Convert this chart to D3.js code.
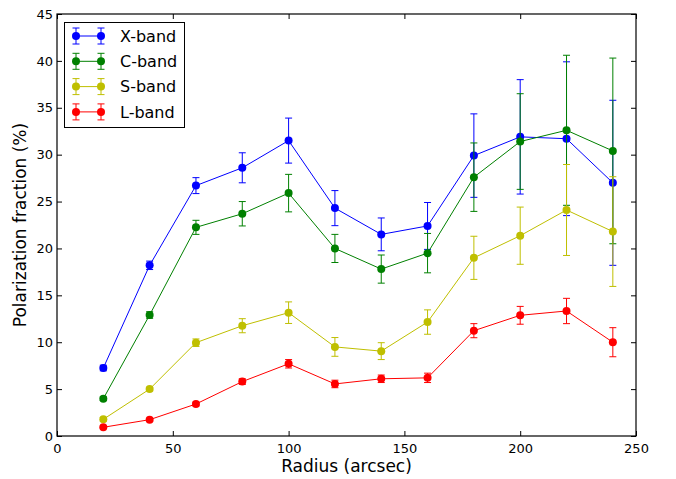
<!DOCTYPE html>
<html><head><meta charset="utf-8">
<script src="https://cdn.jsdelivr.net/npm/d3@7"></script>
<style>body{margin:0;background:#fff}svg{display:block}text{font-family:"DejaVu Sans",sans-serif;fill:#000}</style>
</head><body><svg id="c" width="676" height="479"></svg>
<script>
const radius = [20,40,60,80,100,120,140,160,180,200,220,240];
const xBand = [7.25,18.2,26.7,28.6,31.5,24.3,21.5,22.4,29.9,31.9,31.7,27.0];
const xErr  = [0.3,0.45,0.85,1.6,2.4,1.87,1.75,2.5,4.45,6.1,8.2,8.8];
const cBand = [3.98,12.9,22.25,23.7,25.9,20.0,17.8,19.5,27.6,31.4,32.6,30.4];
const cErr  = [0.2,0.35,0.75,1.3,2.0,1.5,1.5,2.1,3.65,5.1,8.0,9.9];
const sBand = [1.78,5.0,9.95,11.76,13.15,9.5,9.05,12.15,19.0,21.36,24.1,21.8];
const sErr  = [0.2,0.2,0.4,0.75,1.15,1.0,0.9,1.3,2.3,3.05,4.85,5.85];
const lBand = [0.93,1.74,3.41,5.8,7.7,5.55,6.1,6.2,11.23,12.87,13.33,10.0];
const lErr  = [0.1,0.15,0.2,0.3,0.45,0.4,0.4,0.5,0.75,0.95,1.35,1.55];
const seriesNames = ["X-band","C-band","S-band","L-band"];
const seriesColors = ["#0000ff","#008000","#bfbf00","#ff0000"];
const xTicks = [0,50,100,150,200,250];
const yTicks = [0,5,10,15,20,25,30,35,40,45];

const series = [
  {name:seriesNames[0], color:seriesColors[0], v:xBand, e:xErr},
  {name:seriesNames[1], color:seriesColors[1], v:cBand, e:cErr},
  {name:seriesNames[2], color:seriesColors[2], v:sBand, e:sErr},
  {name:seriesNames[3], color:seriesColors[3], v:lBand, e:lErr}
];

const L=57, R=636, T=14, B=436;
const svg = d3.select("#c");
const x = d3.scaleLinear().domain([0,250]).range([L,R]);
const y = d3.scaleLinear().domain([0,45]).range([B,T]);

const tickLen = 5;
// axes
const gx = svg.append("g").attr("transform",`translate(0,${B})`)
  .call(d3.axisBottom(x).tickValues(xTicks).tickSizeInner(-tickLen).tickSizeOuter(0).tickPadding(8));
const gxt = svg.append("g").attr("transform",`translate(0,${T})`)
  .call(d3.axisTop(x).tickValues(xTicks).tickSizeInner(-tickLen).tickSizeOuter(0).tickFormat(""));
const gy = svg.append("g").attr("transform",`translate(${L},0)`)
  .call(d3.axisLeft(y).tickValues(yTicks).tickSizeInner(-tickLen).tickSizeOuter(0).tickPadding(4));
const gyr = svg.append("g").attr("transform",`translate(${R},0)`)
  .call(d3.axisRight(y).tickValues(yTicks).tickSizeInner(-tickLen).tickSizeOuter(0).tickFormat(""));
[gx,gxt,gy,gyr].forEach(g=>{
  g.select(".domain").remove();
  g.selectAll(".tick line").attr("stroke","#000").attr("stroke-width",1);
  g.selectAll("text").style("font-size","13px").attr("fill","#000");
});

const plot = svg.append("g");
series.forEach(s=>{
  const line = d3.line().x((d,i)=>x(radius[i])).y(d=>y(d));
  plot.append("path").datum(s.v).attr("d",line).attr("fill","none")
    .attr("stroke",s.color).attr("stroke-width",1);
  const eb = plot.append("g");
  s.v.forEach((v,i)=>{
    const cx = x(radius[i]);
    const y1 = y(v+s.e[i]), y0 = y(v-s.e[i]);
    eb.append("line").attr("x1",cx).attr("x2",cx).attr("y1",y1).attr("y2",y0).attr("stroke",s.color).attr("stroke-width",1);
    eb.append("line").attr("x1",cx-3.5).attr("x2",cx+3.5).attr("y1",y1).attr("y2",y1).attr("stroke",s.color).attr("stroke-width",1);
    eb.append("line").attr("x1",cx-3.5).attr("x2",cx+3.5).attr("y1",y0).attr("y2",y0).attr("stroke",s.color).attr("stroke-width",1);
  });
  plot.append("g").selectAll("circle").data(s.v).join("circle")
    .attr("cx",(d,i)=>x(radius[i])).attr("cy",d=>y(d)).attr("r",4).attr("fill",s.color);
});

// frame
svg.append("rect").attr("x",L).attr("y",T).attr("width",R-L).attr("height",B-T)
  .attr("fill","none").attr("stroke","#000").attr("stroke-width",1.2);

// axis labels
svg.append("text").attr("x",(L+R)/2).attr("y",472).attr("text-anchor","middle")
  .style("font-size","17px").text("Radius (arcsec)");
svg.append("text").attr("transform",`translate(26,${(T+B)/2}) rotate(-90)`).attr("text-anchor","middle")
  .style("font-size","17px").text("Polarization fraction (%)");

// legend
const lg = svg.append("g");
lg.append("rect").attr("x",64.5).attr("y",22.5).attr("width",120).attr("height",105)
  .attr("fill","#fff").attr("stroke","#000").attr("stroke-width",1);
series.forEach((s,i)=>{
  const yy = 36 + i*25.3;
  const g = lg.append("g");
  g.append("line").attr("x1",76).attr("x2",101).attr("y1",yy).attr("y2",yy).attr("stroke",s.color);
  [76,101].forEach(px=>{
    g.append("line").attr("x1",px).attr("x2",px).attr("y1",yy-8).attr("y2",yy+8).attr("stroke",s.color);
    g.append("line").attr("x1",px-3.5).attr("x2",px+3.5).attr("y1",yy-8).attr("y2",yy-8).attr("stroke",s.color);
    g.append("line").attr("x1",px-3.5).attr("x2",px+3.5).attr("y1",yy+8).attr("y2",yy+8).attr("stroke",s.color);
    g.append("circle").attr("cx",px).attr("cy",yy).attr("r",4).attr("fill",s.color);
  });
  g.append("text").attr("x",120).attr("y",yy).attr("dy","0.35em").style("font-size","16px").text(s.name);
});
</script></body></html>
